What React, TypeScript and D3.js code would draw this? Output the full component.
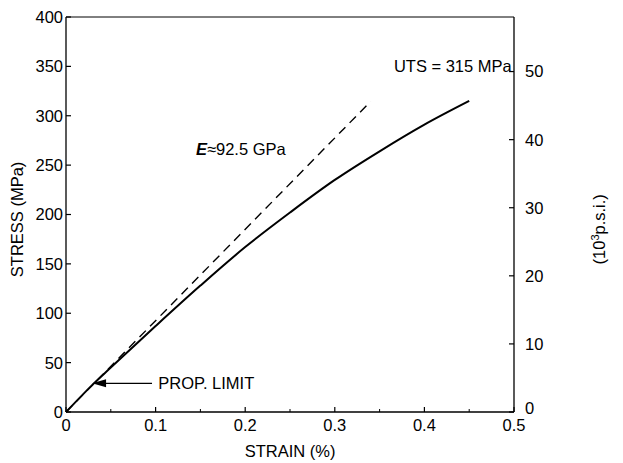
import React from 'react';
import * as d3 from 'd3';

const strainTicks = [0, 0.1, 0.2, 0.3, 0.4, 0.5];
const strainMinor = [0.05, 0.15, 0.25, 0.35, 0.45];
const stressTicks = [0, 50, 100, 150, 200, 250, 300, 350, 400];
const psiTicks = [0, 10, 20, 30, 40, 50];
const curveStrain = [0, 0.03, 0.05, 0.1, 0.15, 0.2, 0.25, 0.3, 0.35, 0.4, 0.45];
const curveStress = [0, 28, 45, 87, 128, 167, 202, 235, 264, 291, 315];
const modulusStrain = [0, 0.34];
const modulusStress = [0, 314.5];
const propLimit = { strain: 0.028, stress: 27 };
const MPA_PER_KSI = 6.895;

const W = 623, H = 463;
const m = { left: 66, right: 514, top: 17, bottom: 412 };
const FONT = '"Liberation Sans", Arial, Helvetica, sans-serif';
const FS = 16.5;

export default function App() {
  const x = d3.scaleLinear().domain([0, 0.5]).range([m.left, m.right]);
  const y = d3.scaleLinear().domain([0, 400]).range([m.bottom, m.top]);
  const line = d3.line<[number, number]>().x(d => x(d[0])).y(d => y(d[1])).curve(d3.curveCatmullRom.alpha(0.5));
  const curve = curveStrain.map((s, i) => [s, curveStress[i]] as [number, number]);
  const modulus = modulusStrain.map((s, i) => [s, modulusStress[i]] as [number, number]);
  const tipX = x(propLimit.strain) + 1;
  const tipY = y(propLimit.stress) - 2;
  return (
    <svg width={W} height={H} style={{ position: 'absolute', left: 0, top: 0, background: '#fff' }} fontFamily={FONT}>
      <rect x={0} y={0} width={W} height={H} fill="#fff" />
      <g stroke="#000" strokeWidth={1.3} fill="none">
        <line x1={m.left} x2={m.right} y1={m.bottom} y2={m.bottom} />
        <line x1={m.left} x2={m.left} y1={m.top} y2={m.bottom} />
        <line x1={m.right} x2={m.right} y1={m.top} y2={m.bottom} />
        <line x1={m.left} x2={m.right} y1={m.top} y2={m.top} strokeWidth={1} />
      </g>
      {stressTicks.map(t => (
        <g key={'l' + t}>
          <line x1={m.left} x2={m.left + 5} y1={y(t)} y2={y(t)} stroke="#000" strokeWidth={1.2} />
          <text x={m.left - 3} y={y(t)} dy="0.36em" textAnchor="end" fontSize={FS}>{t}</text>
        </g>
      ))}
      {psiTicks.map(t => (
        <g key={'r' + t}>
          <line x1={m.right} x2={m.right - 5} y1={y(t * MPA_PER_KSI)} y2={y(t * MPA_PER_KSI)} stroke="#000" strokeWidth={1.2} />
          <text x={m.right + 11} y={y(t * MPA_PER_KSI) - (t === 0 ? 4 : 0)} dy="0.36em" textAnchor="start" fontSize={FS}>{t}</text>
        </g>
      ))}
      {strainTicks.map(t => (
        <g key={'b' + t}>
          <line x1={x(t)} x2={x(t)} y1={m.bottom} y2={m.bottom - 5} stroke="#000" strokeWidth={1.2} />
          <text x={x(t)} y={m.bottom + 19} textAnchor="middle" fontSize={FS}>{t}</text>
        </g>
      ))}
      {strainMinor.map(t => (
        <line key={'bm' + t} x1={x(t)} x2={x(t)} y1={m.bottom} y2={m.bottom - 3} stroke="#000" strokeWidth={1} />
      ))}
      <text x={x(0.25)} y={H - 6} textAnchor="middle" fontSize={FS}>STRAIN (%)</text>
      <text transform={`translate(23, ${y(195)}) rotate(-90)`} textAnchor="middle" fontSize={FS}>STRESS (MPa)</text>
      <text transform={`translate(605, ${y(185)}) rotate(-90)`} textAnchor="middle" fontSize={FS}>
        (10<tspan dy={-6} fontSize={11}>3</tspan><tspan dy={6}>p.s.i.)</tspan>
      </text>
      <path d={line(modulus) || ''} fill="none" stroke="#000" strokeWidth={1.4} strokeDasharray="9,6" />
      <path d={line(curve) || ''} fill="none" stroke="#000" strokeWidth={2} />
      <text x={x(0.4975)} y={y(350)} dy="0.36em" textAnchor="end" fontSize={FS}>UTS = 315 MPa</text>
      <text x={x(0.145)} y={y(266)} dy="0.36em" fontSize={FS}>
        <tspan fontStyle="italic" fontWeight="bold">E</tspan>≈92.5 GPa
      </text>
      <line x1={tipX + 10} x2={x(0.096)} y1={tipY} y2={tipY} stroke="#000" strokeWidth={1.3} />
      <path d={`M${tipX},${tipY} L${tipX + 14},${tipY - 4} L${tipX + 14},${tipY + 4} Z`} fill="#000" />
      <text x={x(0.103)} y={tipY} dy="0.36em" fontSize={FS}>PROP. LIMIT</text>
    </svg>
  );
}
